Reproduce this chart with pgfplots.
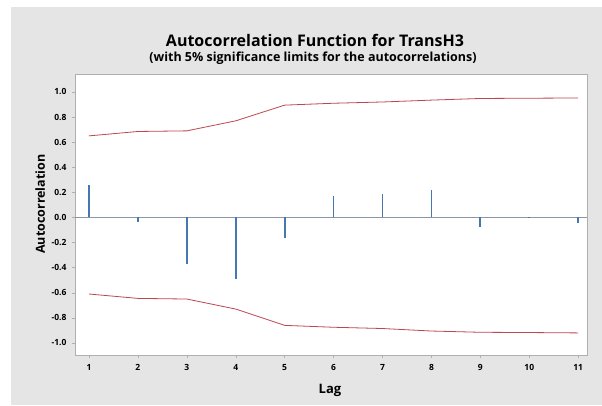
\documentclass[border=0pt]{standalone}
\usepackage{fontspec}
\setmainfont{Open Sans}
\usepackage{pgfplots}
\pgfplotsset{compat=1.18}
\definecolor{bggray}{RGB}{229,229,229}
\definecolor{acfblue}{RGB}{70,120,175}
\definecolor{limred}{RGB}{190,70,80}
\definecolor{zeroline}{RGB}{140,150,165}
\definecolor{framegray}{RGB}{175,175,175}
\begin{document}
\begin{tikzpicture}
\path[use as bounding box] (0pt,0pt) rectangle (602pt,405pt);
\fill[white] (0pt,0pt) rectangle (602pt,405pt);
\fill[bggray] (11pt,0pt) rectangle (602pt,398pt);
\node[font=\fontsize{16}{18}\selectfont\bfseries] at (315pt,365pt) {Autocorrelation Function for TransH3};
\node[font=\fontsize{12.5}{14}\selectfont\bfseries] at (313pt,347pt) {(with 5\% significance limits for the autocorrelations)};
\begin{axis}[
  at={(75pt,50pt)}, anchor=south west,
  width=512pt, height=281pt, scale only axis,
  xmin=0.714, xmax=11.18,
  ymin=-1.096, ymax=1.143,
  axis background/.style={fill=white},
  axis line style={framegray, line width=0.6pt},
  xtick={1,...,11},
  ytick={-1,-0.8,-0.6,-0.4,-0.2,0,0.2,0.4,0.6,0.8,1},
  yticklabel style={/pgf/number format/fixed, /pgf/number format/fixed zerofill, /pgf/number format/precision=1, xshift=-2pt},
  /pgf/number format/assume math mode=true,
  tick align=outside,
  major tick length=3pt,
  tick style={framegray, line width=0.5pt},
  xtick pos=bottom, ytick pos=left,
  ticklabel style={font=\fontsize{8.5}{10}\selectfont\bfseries},
  xticklabel style={yshift=-3pt},
  xlabel={Lag},
  ylabel={Autocorrelation},
  every axis y label/.style={at={(rel axis cs:-0.068,0.537)}, rotate=90, anchor=center, font=\fontsize{12.5}{14}\selectfont\bfseries},
  every axis x label/.style={at={(rel axis cs:0.498,-0.125)}, anchor=center, font=\fontsize{13}{15}\selectfont\bfseries},
]
\addplot[zeroline, line width=0.8pt] coordinates {(0.714,0) (11.18,0)};
\addplot[limred, line width=0.8pt] coordinates {
(1,0.65) (2,0.685) (3,0.69) (4,0.77) (5,0.895) (6,0.91) (7,0.92) (8,0.935) (9,0.948) (10,0.95) (11,0.952)};
\addplot[limred, line width=0.8pt] coordinates {
(1,-0.61) (2,-0.645) (3,-0.65) (4,-0.73) (5,-0.86) (6,-0.875) (7,-0.885) (8,-0.905) (9,-0.915) (10,-0.917) (11,-0.92)};
\addplot[ycomb, acfblue, line width=1.8pt, mark=none] coordinates {
(1,0.255) (2,-0.04) (3,-0.37) (4,-0.49) (5,-0.16) (6,0.17) (7,0.19) (8,0.22) (9,-0.08) (10,0.003) (11,-0.045)};
\end{axis}
\end{tikzpicture}
\end{document}
